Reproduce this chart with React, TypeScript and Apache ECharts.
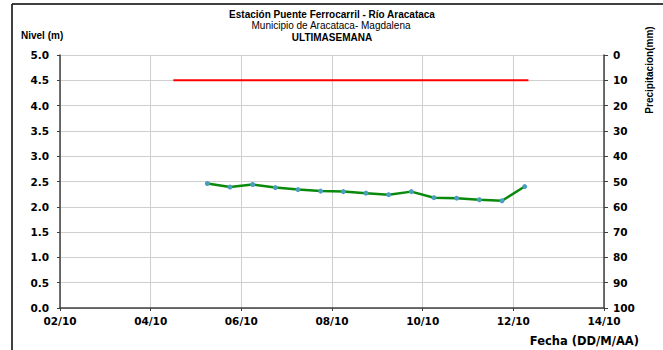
import React, { useEffect, useRef } from "react";
import * as echarts from "echarts";

// Nivel (m) — readings every 12 h
const levelDates = [
  "2018-10-05 06:00", "2018-10-05 18:00", "2018-10-06 06:00", "2018-10-06 18:00",
  "2018-10-07 06:00", "2018-10-07 18:00", "2018-10-08 06:00", "2018-10-08 18:00",
  "2018-10-09 06:00", "2018-10-09 18:00", "2018-10-10 06:00", "2018-10-10 18:00",
  "2018-10-11 06:00", "2018-10-11 18:00", "2018-10-12 06:00",
];
const levelValues = [2.46, 2.39, 2.44, 2.38, 2.34, 2.31, 2.30, 2.27, 2.24, 2.30, 2.18, 2.17, 2.14, 2.12, 2.40];

// Red threshold line
const thresholdDates = ["2018-10-04 12:00", "2018-10-12 08:00"];
const thresholdValues = [4.5, 4.5];

const xStart = "2018-10-02 00:00";
const xEnd = "2018-10-14 00:00";
const DAY = 86400000;

function parse(s: string): number {
  const [d, t] = s.split(" ");
  const [y, m, dd] = d.split("-").map(Number);
  const [hh, mm] = t.split(":").map(Number);
  return Date.UTC(y, m - 1, dd, hh, mm);
}

const tickFont = "'DejaVu Sans', sans-serif";
const axisColor = "#404040";
const gridColor = "#cfcfcf";

export default function App() {
  const ref = useRef<HTMLDivElement>(null);
  useEffect(() => {
    document.body.style.margin = "0";
    const chart = echarts.init(ref.current!, null, { renderer: "svg" });
    const labelStyle = {
      fontFamily: tickFont,
      fontWeight: "bold" as const,
      fontSize: 10.5,
      color: "#000",
    };
    chart.setOption({
      animation: false,
      backgroundColor: "#fff",
      grid: {
        left: 60,
        right: 59,
        top: 55,
        bottom: 42,
        containLabel: false,
        outerBoundsMode: "none",
      },
      xAxis: {
        type: "value",
        min: parse(xStart),
        max: parse(xEnd),
        interval: 2 * DAY,
        axisLine: { show: true, lineStyle: { color: axisColor, width: 1.5 } },
        axisTick: { show: true, length: 3, lineStyle: { color: axisColor } },
        splitLine: { show: true, lineStyle: { color: gridColor, width: 1 } },
        axisLabel: {
          ...labelStyle,
          margin: 7,
          showMinLabel: true,
          showMaxLabel: true,
          formatter: (v: number) => {
            const d = new Date(v);
            const dd = String(d.getUTCDate()).padStart(2, "0");
            const mm = String(d.getUTCMonth() + 1);
            return `${dd}/${mm}`;
          },
        },
      },
      yAxis: [
        {
          type: "value",
          min: 0,
          max: 5,
          interval: 0.5,
          axisLine: { show: true, lineStyle: { color: axisColor, width: 1.5 } },
          axisTick: { show: true, length: 3, lineStyle: { color: axisColor } },
          splitLine: { show: true, lineStyle: { color: gridColor, width: 1 } },
          axisLabel: { ...labelStyle, margin: 11, formatter: (v: number) => v.toFixed(1) },
        },
        {
          type: "value",
          position: "right",
          min: 0,
          max: 100,
          interval: 10,
          inverse: true,
          axisLine: { show: true, lineStyle: { color: axisColor, width: 1.5 } },
          axisTick: { show: true, length: 4, lineStyle: { color: axisColor } },
          splitLine: { show: false },
          axisLabel: { ...labelStyle, margin: 9 },
        },
      ],
      series: [
        {
          type: "line",
          data: thresholdDates.map((d, i) => [parse(d), thresholdValues[i]]),
          showSymbol: false,
          symbol: "none",
          lineStyle: { color: "#ff0000", width: 2 },
          z: 2,
        },
        {
          type: "line",
          data: levelDates.map((d, i) => [parse(d), levelValues[i]]),
          symbol: "circle",
          symbolSize: 5,
          lineStyle: { color: "#0a8a0a", width: 2.5 },
          itemStyle: { color: "#4a9fbf" },
          z: 3,
        },
      ],
      graphic: [
        { type: "line", shape: { x1: 12, y1: 4, x2: 663, y2: 4 }, style: { stroke: "#000", lineWidth: 1.5 } },
        { type: "line", shape: { x1: 12, y1: 4, x2: 12, y2: 350 }, style: { stroke: "#000", lineWidth: 1.5 } },
        {
          type: "text", x: 332, y: 14,
          style: { text: "Estación Puente Ferrocarril - Río Aracataca", font: "bold 10px 'Liberation Sans', Arial", fill: "#000", textAlign: "center", textVerticalAlign: "middle" },
        },
        {
          type: "text", x: 331, y: 25.5,
          style: { text: "Municipio de Aracataca- Magdalena", font: "10px 'Liberation Sans', Arial", fill: "#000", textAlign: "center", textVerticalAlign: "middle" },
        },
        {
          type: "text", x: 332, y: 37,
          style: { text: "ULTIMASEMANA", font: "bold 10px 'Liberation Sans', Arial", fill: "#000", textAlign: "center", textVerticalAlign: "middle" },
        },
        {
          type: "text", x: 21, y: 35,
          style: { text: "Nivel (m)", font: "bold 10px 'Liberation Sans', Arial", fill: "#000", textAlign: "left", textVerticalAlign: "middle" },
        },
        {
          type: "text", x: 639, y: 341,
          style: { text: "Fecha (DD/M/AA)", font: "bold 11.5px 'DejaVu Sans', sans-serif", fill: "#000", textAlign: "right", textVerticalAlign: "middle" },
        },
        {
          type: "text", x: 649, y: 70, rotation: Math.PI / 2,
          style: { text: "Precipitacion(mm)", font: "bold 10px 'Liberation Sans Narrow', 'Liberation Sans', Arial", fill: "#000", textAlign: "center", textVerticalAlign: "middle" },
        },
      ],
    });
    return () => chart.dispose();
  }, []);
  return <div ref={ref} style={{ position: "fixed", left: 0, top: 0, width: 663, height: 350 }} />;
}
